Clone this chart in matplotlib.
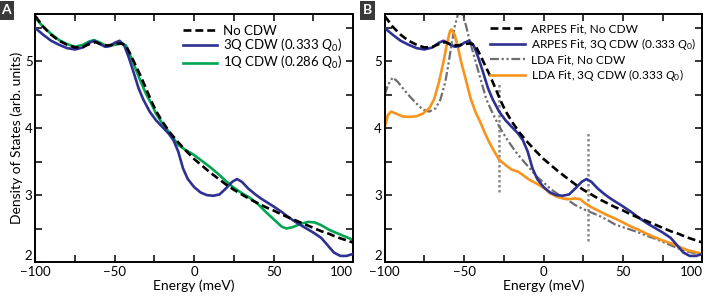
import numpy as np
import matplotlib
matplotlib.use('Agg')
import matplotlib.pyplot as plt
from matplotlib.ticker import MultipleLocator

plt.rcParams['font.family'] = ['Lato', 'DejaVu Sans']
plt.rcParams['mathtext.fontset'] = 'custom'
plt.rcParams['mathtext.it'] = 'Lato:italic'
plt.rcParams['mathtext.rm'] = 'Lato'

# ARPES fit, no CDW (same curve in both panels)
x_nocdw = [-100, -95, -90, -85, -80, -75, -70, -65, -62, -58, -54, -50, -46, -43, -40,
           -37, -34, -30, -27, -24, -20, -15, -10, -5, 0, 5, 10, 15, 20, 25, 30, 35,
           40, 45, 50, 55, 60, 65, 70, 75, 80, 85, 90, 95, 100]
y_nocdw = [5.68, 5.52, 5.40, 5.31, 5.25, 5.21, 5.22, 5.27, 5.29, 5.25, 5.24, 5.26, 5.27,
           5.24, 5.10, 4.95, 4.80, 4.58, 4.41, 4.26, 4.10, 3.93, 3.79, 3.66, 3.54, 3.44,
           3.34, 3.25, 3.16, 3.08, 3.01, 2.94, 2.88, 2.82, 2.77, 2.71, 2.66, 2.61, 2.56,
           2.51, 2.46, 2.42, 2.37, 2.33, 2.29]

# ARPES fit, 3Q CDW
x_3q = [-100, -95, -90, -85, -80, -75, -70, -66, -63, -60, -56, -53, -50, -47, -44, -41,
        -38, -35, -32, -28, -24, -20, -16, -13, -10, -7, -4, 0, 4, 8, 12, 16, 20, 24, 27,
        30, 34, 38, 42, 46, 50, 55, 60, 65, 70, 75, 80, 84, 88, 92, 96, 100]
y_3q = [5.50, 5.40, 5.31, 5.25, 5.20, 5.18, 5.21, 5.28, 5.31, 5.27, 5.22, 5.23, 5.28,
        5.31, 5.24, 5.05, 4.83, 4.60, 4.43, 4.25, 4.12, 4.02, 3.92, 3.82, 3.65, 3.40,
        3.24, 3.12, 3.04, 3.00, 2.99, 3.01, 3.10, 3.20, 3.24, 3.20, 3.10, 3.02, 2.95,
        2.89, 2.83, 2.75, 2.66, 2.58, 2.51, 2.44, 2.36, 2.25, 2.14, 2.09, 2.09, 2.12]

# 1Q CDW
x_1q = [-100, -95, -90, -85, -80, -75, -70, -66, -63, -60, -56, -52, -48, -45, -43, -40,
        -37, -34, -30, -27, -24, -20, -16, -13, -10, -5, 0, 5, 10, 15, 20, 25, 30, 35,
        40, 45, 50, 55, 58, 62, 67, 72, 76, 80, 85, 90, 95, 100]
y_1q = [5.65, 5.52, 5.41, 5.32, 5.26, 5.22, 5.25, 5.30, 5.32, 5.29, 5.24, 5.24, 5.26,
        5.27, 5.24, 5.08, 4.90, 4.72, 4.50, 4.37, 4.22, 4.07, 3.95, 3.85, 3.75, 3.67,
        3.60, 3.51, 3.42, 3.32, 3.21, 3.11, 3.03, 2.96, 2.87, 2.75, 2.64, 2.53, 2.50,
        2.52, 2.57, 2.60, 2.59, 2.55, 2.48, 2.43, 2.38, 2.33]

# LDA fit, no CDW
x_lda = [-100, -98, -95, -92, -88, -84, -80, -76, -72, -68, -65, -62, -60, -58, -56, -54,
         -53, -51, -49, -47, -44, -42, -39, -36, -32, -28, -24, -20, -16, -12, -8, -4,
         0, 5, 10, 15, 20, 25, 30, 35, 40, 45, 50, 55, 60, 65, 70, 75, 80, 85, 90, 95, 100]
y_lda = [4.50, 4.65, 4.76, 4.70, 4.58, 4.47, 4.37, 4.28, 4.25, 4.30, 4.43, 4.68, 4.95,
         5.25, 5.52, 5.70, 5.76, 5.70, 5.55, 5.35, 5.10, 4.93, 4.68, 4.43, 4.22, 4.03,
         3.87, 3.73, 3.60, 3.49, 3.38, 3.27, 3.19, 3.08, 3.00, 2.93, 2.85, 2.79, 2.74,
         2.69, 2.63, 2.56, 2.52, 2.48, 2.44, 2.39, 2.35, 2.30, 2.25, 2.20, 2.16, 2.13, 2.11]

# LDA fit, 3Q CDW
x_lda3q = [-100, -98, -96, -93, -89, -85, -80, -76, -72, -69, -66, -63, -61, -59, -58,
           -56, -54, -52, -49, -46, -43, -40, -37, -34, -31, -28, -24, -20, -16, -13, -9,
           -5, 0, 4, 8, 12, 16, 20, 23, 26, 30, 35, 40, 45, 50, 55, 60, 65, 70, 75, 80,
           85, 90, 95, 100]
y_lda3q = [4.02, 4.20, 4.25, 4.22, 4.18, 4.17, 4.18, 4.22, 4.30, 4.43, 4.68, 5.00, 5.25,
           5.45, 5.48, 5.40, 5.22, 5.00, 4.73, 4.45, 4.25, 4.10, 3.93, 3.78, 3.65, 3.53,
           3.45, 3.38, 3.35, 3.30, 3.23, 3.18, 3.11, 3.03, 2.98, 2.95, 2.94, 2.95, 2.94,
           2.88, 2.82, 2.76, 2.70, 2.65, 2.59, 2.53, 2.48, 2.42, 2.37, 2.32, 2.28, 2.23,
           2.18, 2.15, 2.12]

# dotted markers in panel B
vlines_x = [-28, 28]
vlines_lo = [3.05, 2.32]
vlines_hi = [4.68, 3.95]

blue = '#2e3192'
green = '#00a651'
orange = '#f7941d'
gray = '#6d6e71'

fig = plt.figure(figsize=(7.06, 2.99), dpi=100)
axA = fig.add_axes([0.050, 0.124, 0.450, 0.829])
axB = fig.add_axes([0.545, 0.124, 0.450, 0.829])

lw = 1.9
axA.plot(x_nocdw, y_nocdw, color='black', ls=(0, (3, 1.5)), lw=lw, label='No CDW', zorder=4)
axA.plot(x_3q, y_3q, color=blue, lw=lw, label='3Q CDW (0.333 $\\mathit{Q}_0$)', zorder=3)
axA.plot(x_1q, y_1q, color=green, lw=lw, label='1Q CDW (0.286 $\\mathit{Q}_0$)', zorder=2)

for xv, lo, hi in zip(vlines_x, vlines_lo, vlines_hi):
    axB.plot([xv, xv], [lo, hi], color='#8a8a8a', ls=(0, (1, 1)), lw=1.8, zorder=1)
axB.plot(x_nocdw, y_nocdw, color='black', ls=(0, (3, 1.5)), lw=lw, label='ARPES Fit, No CDW', zorder=4)
axB.plot(x_3q, y_3q, color=blue, lw=lw, label='ARPES Fit, 3Q CDW (0.333 $\\mathit{Q}_0$)', zorder=3)
axB.plot(x_lda, y_lda, color=gray, ls=(0, (4, 1.2, 1, 1.2, 1, 1.2)), lw=1.6,
         label='LDA Fit, No CDW', zorder=2)
axB.plot(x_lda3q, y_lda3q, color=orange, lw=lw, label='LDA Fit, 3Q CDW (0.333 $\\mathit{Q}_0$)', zorder=2)

for ax in (axA, axB):
    ax.set_xlim(-100, 100)
    ax.set_ylim(2.0, 5.71)
    ax.xaxis.set_major_locator(MultipleLocator(50))
    ax.xaxis.set_minor_locator(MultipleLocator(25))
    ax.yaxis.set_major_locator(MultipleLocator(1))
    ax.yaxis.set_minor_locator(MultipleLocator(0.5))
    ax.tick_params(which='both', direction='in', top=True, right=True, width=1.1,
                   length=5, labelsize=9.5)
    ax.tick_params(axis='x', pad=3)
    ax.tick_params(axis='y', pad=2)
    for s in ax.spines.values():
        s.set_linewidth(1.4)
    ax.set_xlabel('Energy (meV)', fontsize=10, labelpad=1)

axA.set_ylabel('Density of States (arb. units)', fontsize=10, labelpad=1)

# bottom y label sits above the corner, last x label ends at the right edge
fig.canvas.draw()
for ax in (axA, axB):
    for lab in ax.get_yticklabels():
        if lab.get_text() == '2':
            lab.set_va('bottom')
    for lab in ax.get_xticklabels():
        if lab.get_text() == '100':
            lab.set_ha('right')

axA.legend(loc='upper right', bbox_to_anchor=(1.0, 1.0), frameon=False, fontsize=9.5,
           handlelength=2.6, labelspacing=0.02, borderpad=0.3, handletextpad=0.5)
axB.legend(loc='upper right', bbox_to_anchor=(1.01, 1.0), frameon=False, fontsize=8.6,
           handlelength=2.9, labelspacing=0.15, borderpad=0.3, handletextpad=0.5)

for xp, lab in [(0.002, 'A'), (0.514, 'B')]:
    fig.text(xp, 0.985, lab, color='white', fontsize=10, fontweight='bold', va='top', ha='left',
             bbox=dict(boxstyle='square,pad=0.22', fc='#3a3a3a', ec='none'))

fig.savefig('out.png', dpi=100)
